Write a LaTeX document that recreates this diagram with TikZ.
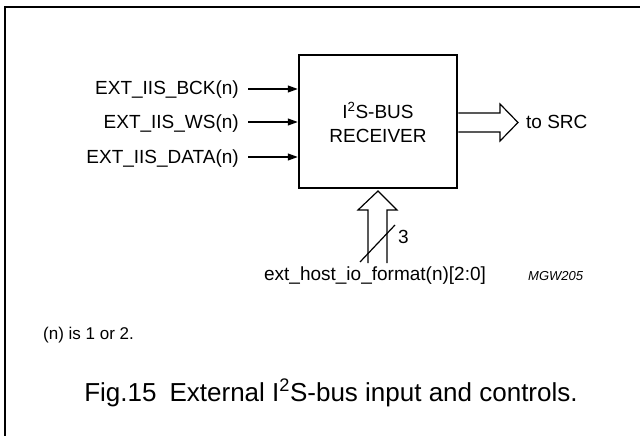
\documentclass[tikz,border=0pt]{standalone}
\usepackage{fontspec}
\setmainfont{Liberation Sans}
\usetikzlibrary{arrows.meta}
\begin{document}
\begin{tikzpicture}[x=1pt,y=-1pt,
  lbl/.style={font=\fontsize{19}{21}\selectfont, inner sep=0pt},
  note/.style={font=\fontsize{17}{19}\selectfont, inner sep=0pt},
  captxt/.style={font=\fontsize{26}{29}\selectfont, inner sep=0pt},
  code/.style={font=\fontsize{13}{15}\selectfont\itshape, inner sep=0pt},
  sig/.style={line width=1.2pt, -{Triangle[length=10pt,width=7pt]}},
  bus/.style={line width=1.2pt, line join=miter},
  blk/.style={draw, line width=2.5pt, minimum width=158pt, minimum height=133pt, inner sep=0pt, align=center}]
\useasboundingbox (0,0) rectangle (640,436);
% frame
\coordinate (fbl) at (5,436);
\coordinate (ftl) at (5,7);
\coordinate (ftr) at (640,7);
\draw[line width=2pt] (fbl) -- (ftl) -- (ftr);
% block
\node[blk] (rx) at (378,121.5) {};
\node[lbl, anchor=base] (t1) at (378,118) {I\textsuperscript{2}S-BUS};
\node[lbl, anchor=base] (t2) at (378,142) {RECEIVER};
% inputs
\node[lbl, anchor=base east] (bck) at (239,95) {EXT\_IIS\_BCK(n)};
\node[lbl, anchor=base east] (ws) at (239,128) {EXT\_IIS\_WS(n)};
\node[lbl, anchor=base east] (data) at (239,163) {EXT\_IIS\_DATA(n)};
\coordinate (a1) at (248,89);
\coordinate (a2) at (248,122);
\coordinate (a3) at (248,157);
\draw[sig] (a1) -- (a1 -| rx.west);
\draw[sig] (a2) -- (a2 -| rx.west);
\draw[sig] (a3) -- (a3 -| rx.west);
% output bus
\coordinate (o1) at (500,113);
\coordinate (o2) at (500,104);
\coordinate (otip) at (518,122.5);
\coordinate (o3) at (500,141);
\coordinate (o4) at (500,132);
\draw[bus] (o1 -| rx.east) -- (o1) -- (o2) -- (otip) -- (o3) -- (o4) -- (o4 -| rx.east);
\node[lbl, anchor=base west] (src) at (526,128) {to SRC};
% control bus
\coordinate (c1) at (368,263);
\coordinate (c2) at (368,210);
\coordinate (c3) at (358,210);
\coordinate (ctip) at (378,191);
\coordinate (c4) at (397,210);
\coordinate (c5) at (387,210);
\coordinate (c6) at (387,263);
\draw[bus] (c1) -- (c2) -- (c3) -- (ctip) -- (c4) -- (c5) -- (c6);
\coordinate (s1) at (360,262);
\coordinate (s2) at (395,225);
\draw[line width=1.2pt] (s1) -- (s2);
\node[lbl, anchor=base west] (three) at (398,243) {3};
\node[lbl, anchor=base] (fmt) at (375,280) {ext\_host\_io\_format(n)[2:0]};
\node[code, anchor=base west] (mgw) at (528,280) {MGW205};
% notes
\node[note, anchor=base west] (nis) at (43,339) {(n) is 1 or 2.};
\node[captxt, anchor=base] (fig) at (331,401) {Fig.15\hspace{0.5em}External I\textsuperscript{2}S-bus input and controls.};
\end{tikzpicture}
\end{document}
